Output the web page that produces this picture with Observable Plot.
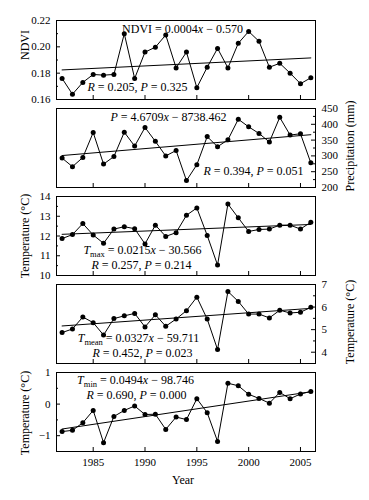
<!DOCTYPE html>
<html><head><meta charset="utf-8">
<script src="https://cdn.jsdelivr.net/npm/d3@7"></script>
<script src="https://cdn.jsdelivr.net/npm/@observablehq/plot@0.6"></script>
<style>
body{margin:0;background:#fff}
#c{position:relative;width:369px;height:500px;background:#fff;overflow:hidden}
#c svg{position:absolute;left:0}
</style>
</head><body><div id="c"></div>
<script>
// ---- data ----
const years = [1982,1983,1984,1985,1986,1987,1988,1989,1990,1991,1992,1993,1994,1995,1996,1997,1998,1999,2000,2001,2002,2003,2004,2005,2006];
const ndvi = [0.176,0.164,0.173,0.179,0.1785,0.179,0.210,0.176,0.196,0.1997,0.209,0.184,0.196,0.169,0.1845,0.1988,0.184,0.2027,0.2117,0.2042,0.1845,0.1875,0.180,0.172,0.1765];
const precip = [293,266,295,374,274,298,375,331,390,346,300,317,222,272,361,329,351,416,392,371,344,422,366,370,278];
const tmax = [11.87,12.07,12.63,12.05,11.63,12.35,12.47,12.37,11.6,12.55,11.98,12.17,13.05,13.42,12.03,10.53,13.62,12.92,12.23,12.33,12.35,12.55,12.55,12.35,12.7];
const tmean = [4.87,5.03,5.56,5.31,4.76,5.49,5.61,5.72,5.12,5.66,5.15,5.47,5.84,6.44,5.47,4.12,6.69,6.25,5.69,5.69,5.52,5.86,5.74,5.77,5.99];
const tmin = [-0.87,-0.83,-0.59,-0.2,-1.22,-0.39,-0.2,-0.06,-0.33,-0.32,-0.8,-0.41,-0.49,0.17,-0.27,-1.18,0.66,0.58,0.31,0.18,0.03,0.37,0.17,0.32,0.4];

const yearTicks = [1985,1990,1995,2000,2005];
const ndviTicks = [0.16,0.18,0.20,0.22], ndviMinor = [0.17,0.19,0.21];
const precipTicks = [200,250,300,350,400,450], precipMinor = [225,275,325,375,425];
const tmaxTicks = [10,11,12,13,14], tmaxMinor = [10.5,11.5,12.5,13.5];
const tmeanTicks = [4,5,6,7], tmeanMinor = [4.5,5.5,6.5];
const tminTicks = [-1,0,1], tminMinor = [-0.5,0.5];

const axisTitles = ["NDVI","Precipitation (mm)","Temperature (°C)","Temperature (°C)","Temperature (°C)"];
const equations = ["NDVI = 0.0004*x* − 0.570","*P* = 4.6709*x* − 8738.462","*T*_max_ = 0.0215*x* − 30.566","*T*_mean_ = 0.0327*x* − 59.711","*T*_min_ = 0.0494*x* − 98.746"];
const stats = ["*R* = 0.205, *P* = 0.325","*R* = 0.394, *P* = 0.051","*R* = 0.257, *P* = 0.214","*R* = 0.452, *P* = 0.023","*R* = 0.690, *P* = 0.000"];
const xTitle = "Year";

// ---- layout / style ----
const FONT = "Liberation Serif";
const minus = d => d < 0 ? "\u2212" + Math.abs(d) : String(d);
const panels = [
  {values: ndvi, domain:[0.16,0.22], ticks: ndviTicks, minor: ndviMinor, fmt: d3.format(".2f"), side:"left", top:20, labelDy:-15,
   eq:{anchor:"top-left", dx:126, dy:9}, st:{anchor:"bottom-left", dx:81, dy:-12}},
  {values: precip, domain:[200,450], ticks: precipTicks, minor: precipMinor, fmt: String, side:"right", top:108, labelDy:-2,
   eq:{anchor:"top-left", dx:112, dy:9}, st:{anchor:"bottom-left", dx:197, dy:-16}},
  {values: tmax, domain:[10,14], ticks: tmaxTicks, minor: tmaxMinor, fmt: String, side:"left", top:196, labelDy:0,
   eq:{anchor:"bottom-left", dx:86, dy:-25}, st:{anchor:"bottom-left", dx:85, dy:-10}},
  {values: tmean, domain:[3.5,7], ticks: tmeanTicks, minor: tmeanMinor, fmt: String, side:"right", top:284, labelDy:-2,
   eq:{anchor:"bottom-left", dx:82, dy:-25}, st:{anchor:"bottom-left", dx:86, dy:-10}},
  {values: tmin, domain:[-1.5,1], ticks: tminTicks, minor: tminMinor, fmt: minus, side:"left", top:372, labelDy:1, last:true,
   eq:{anchor:"top-left", dx:79, dy:8}, st:{anchor:"top-left", dx:80, dy:23}}
];

const xDomain = [1981.46, 2006.45];
const W = 369, ML = 56, MR = 54, FW = W - ML - MR, FH = 79, MT = 10;
const container = document.getElementById("c");

function rich(el, s) {
  const parts = s.split(/(\*[^*]+\*|_[^_]+_)/).filter(p => p);
  el.textContent = "";
  let shifted = false;
  for (const p of parts) {
    const t = document.createElementNS("http://www.w3.org/2000/svg", "tspan");
    if (p[0] === "_") {
      t.textContent = p.slice(1, -1);
      t.setAttribute("font-size", "8.5");
      t.setAttribute("dy", "2.5");
      shifted = true;
      el.appendChild(t);
      continue;
    }
    if (p[0] === "*") { t.textContent = p.slice(1, -1); t.setAttribute("font-style", "italic"); }
    else t.textContent = p;
    if (shifted) { t.setAttribute("dy", "-2.5"); shifted = false; }
    el.appendChild(t);
  }
}

panels.forEach((cfg, i) => {
  const data = years.map((year, k) => ({year, v: cfg.values[k]}));
  const mb = cfg.last ? 49 : 10;
  const left = cfg.side === "left";
  const yTick = (vals, len) => Plot.tickY(vals, {y: d => d, stroke: "black", strokeWidth: 1,
    insetLeft: left ? 0 : FW - len, insetRight: left ? FW - len : 0});
  const marks = [
    Plot.frame({stroke: "black", strokeWidth: 1}),
    Plot.tickX(yearTicks, {x: d => d, insetTop: FH - 4, stroke: "black", strokeWidth: 1}),
    yTick(cfg.ticks, 4),
    yTick(cfg.minor, 2),
    Plot.text(cfg.ticks, {y: d => d, frameAnchor: cfg.side, dx: left ? -6 : 6, textAnchor: left ? "end" : "start",
      text: cfg.fmt, fontSize: 11, fill: "black"}),
    Plot.linearRegressionY(data, {x: "year", y: "v", ci: 0, stroke: "black", strokeWidth: 1}),
    Plot.line(data, {x: "year", y: "v", stroke: "black", strokeWidth: 1}),
    Plot.dot(data, {x: "year", y: "v", r: 2.5, fill: "black", stroke: "none"}),
    Plot.text([axisTitles[i]], {frameAnchor: cfg.side, rotate: -90, dx: left ? -31 : 35, dy: cfg.labelDy, text: d => d, fontSize: 12, textAnchor: "middle", lineAnchor: "middle", fill: "black"}),
    Plot.text([equations[i]], {frameAnchor: cfg.eq.anchor, dx: cfg.eq.dx, dy: cfg.eq.dy, text: d => d, fontSize: 12, textAnchor: "middle", lineAnchor: "middle", fill: "black"}),
    Plot.text([stats[i]], {frameAnchor: cfg.st.anchor, dx: cfg.st.dx, dy: cfg.st.dy, text: d => d, fontSize: 12, textAnchor: "middle", lineAnchor: "middle", fill: "black"})
  ];
  if (cfg.last) {
    marks.push(Plot.text(yearTicks, {x: d => d, frameAnchor: "bottom", dy: 11, text: d => String(d), fontSize: 11, lineAnchor: "middle", fill: "black"}));
    marks.push(Plot.text([xTitle], {frameAnchor: "bottom", dx: -3, dy: 29, text: d => d, fontSize: 12, textAnchor: "middle", lineAnchor: "middle", fill: "black"}));
  }
  const svg = Plot.plot({
    width: W, height: FH + MT + mb,
    marginLeft: ML, marginRight: MR, marginTop: MT, marginBottom: mb,
    x: {domain: xDomain, axis: null},
    y: {domain: cfg.domain, axis: null},
    style: {background: "transparent", fontFamily: FONT, fontSize: "11px", color: "black", overflow: "visible"},
    marks
  });
  svg.style.top = (cfg.top - MT) + "px";
  d3.select(svg).selectAll("text").each(function() {
    const s = this.textContent;
    if (/[*_]/.test(s)) rich(this, s);
  });
  container.appendChild(svg);
});
</script>
</body></html>
